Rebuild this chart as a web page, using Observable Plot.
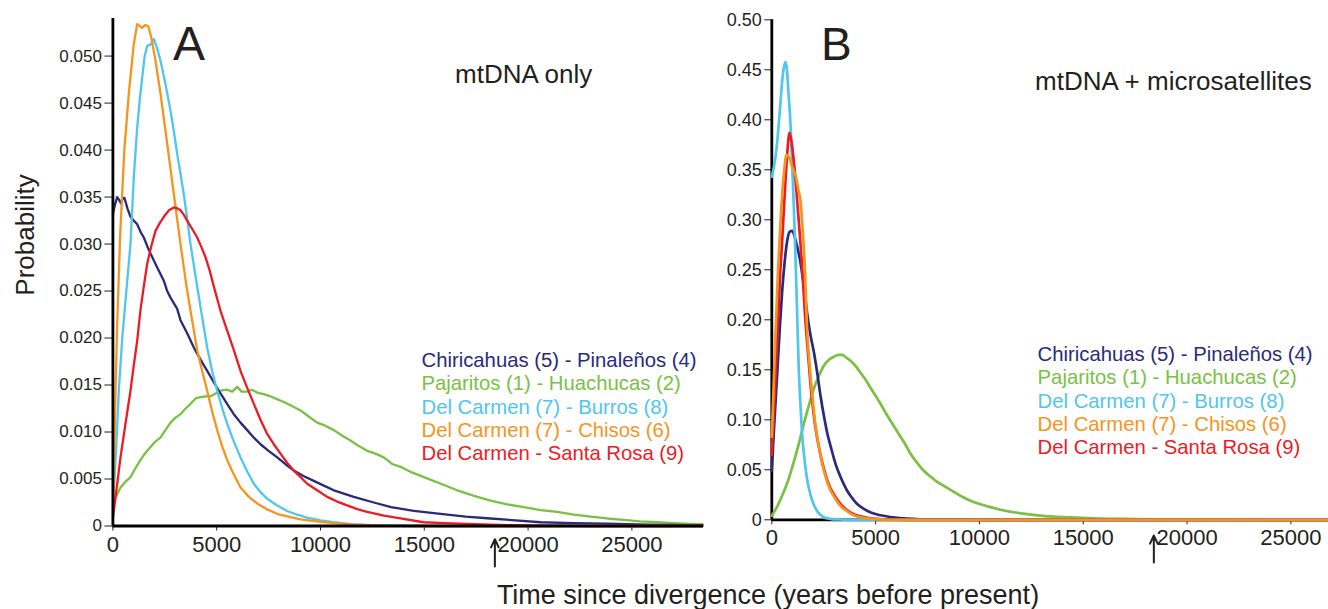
<!DOCTYPE html>
<html><head><meta charset="utf-8">
<script src="https://cdn.jsdelivr.net/npm/d3@7"></script>
<script src="https://cdn.jsdelivr.net/npm/@observablehq/plot@0.6"></script>
<style>
html,body{margin:0;padding:0;background:#fff;}
#wrap{position:relative;width:1328px;height:609px;overflow:hidden;font-family:"Liberation Sans",Arial,sans-serif;}
#pa{position:absolute;left:0;top:0;width:710px;height:570px;}
#pb{position:absolute;left:700px;top:0;width:628px;height:570px;}
#ov{position:absolute;left:0;top:0;pointer-events:none;}
</style></head><body>
<div id="wrap"><div id="pa"></div><div id="pb"></div><svg id="ov" width="1328" height="609"></svg></div>
<script>
// ---------- labels ----------
const seriesNames = ["Chiricahuas (5) - Pinaleños (4)", "Pajaritos (1) - Huachucas (2)", "Del Carmen (7) - Burros (8)", "Del Carmen (7) - Chisos (6)", "Del Carmen - Santa Rosa (9)"];
const seriesColors = ["#2a2a7c", "#7ac143", "#4fc6ef", "#f7941e", "#ec1c24"];
const panelLetters = ["A", "B"];
const panelTitles = ["mtDNA only", "mtDNA + microsatellites"];
const xAxisTitle = "Time since divergence (years before present)";
const yAxisTitle = "Probability";
const xTicks = [0, 5000, 10000, 15000, 20000, 25000];
const yTicksA = [0, 0.005, 0.010, 0.015, 0.020, 0.025, 0.030, 0.035, 0.040, 0.045, 0.050];
const yTicksB = [0, 0.05, 0.10, 0.15, 0.20, 0.25, 0.30, 0.35, 0.40, 0.45, 0.50];
const arrowYears = [18400];
const arrowSpanA = [-0.0043, -0.0014];
const arrowSpanB = [-0.0427, -0.0157];

// ---------- Panel A: mtDNA only  [years, probability] ----------
const A_chiricahuas = [[0,0.0332],[100,0.0342],[207,0.0350],[300,0.0347],[400,0.0343],[480,0.0349],[559,0.0349],[700,0.0338],[848,0.0329],[1000,0.0325],[1170,0.0321],[1330,0.0313],[1488,0.0307],[1650,0.0298],[1811,0.0290],[2134,0.0275],[2452,0.0261],[2615,0.0250],[2775,0.0243],[3097,0.0231],[3256,0.0219],[3578,0.0205],[3897,0.0190],[4220,0.0177],[4542,0.0165],[4860,0.0153],[5183,0.0141],[5500,0.0130],[5824,0.0119],[6147,0.0110],[6469,0.0102],[6790,0.0094],[7110,0.0087],[7500,0.0080],[7914,0.0073],[8300,0.0066],[8714,0.0059],[9200,0.0053],[9677,0.0048],[10160,0.0043],[10641,0.0038],[11604,0.0031],[12568,0.0025],[13400,0.0020],[14500,0.0016],[15780,0.0013],[17000,0.0010],[18189,0.0008],[19400,0.0006],[20598,0.0004],[22200,0.0003],[23810,0.00025],[25800,0.00015],[27800,0.0001],[28400,0.0001]];
const A_pajaritos = [[0,0.0026],[150,0.0031],[366,0.0041],[600,0.0047],[848,0.0052],[1100,0.0062],[1329,0.0070],[1570,0.0078],[1811,0.0084],[2050,0.0090],[2293,0.0094],[2530,0.0102],[2775,0.0110],[3000,0.0115],[3256,0.0119],[3500,0.0125],[3738,0.0130],[4000,0.0136],[4220,0.0137],[4460,0.0138],[4701,0.0138],[4950,0.0141],[5183,0.0144],[5505,0.0145],[5750,0.0143],[5986,0.0148],[6200,0.0143],[6469,0.0143],[6700,0.0145],[6950,0.0142],[7300,0.0140],[7592,0.0138],[7900,0.0135],[8233,0.0132],[8600,0.0128],[9036,0.0123],[9400,0.0117],[9841,0.0110],[10200,0.0107],[10641,0.0102],[11050,0.0096],[11445,0.0091],[11850,0.0085],[12250,0.0080],[12650,0.0077],[13050,0.0073],[13450,0.0066],[13854,0.0063],[14400,0.0057],[14976,0.0052],[15800,0.0045],[16585,0.0038],[17400,0.0032],[18189,0.0027],[19000,0.0023],[19793,0.0020],[20600,0.0017],[21402,0.0015],[22200,0.0012],[23006,0.0010],[23800,0.0008],[24610,0.00066],[25400,0.0005],[26219,0.0004],[27000,0.0003],[27823,0.00023],[28400,0.0002]];
const A_burros = [[0,0.0020],[150,0.0080],[285,0.0144],[450,0.0200],[607,0.0240],[848,0.0300],[1007,0.0371],[1170,0.0424],[1300,0.0455],[1411,0.0477],[1530,0.0500],[1652,0.0511],[1800,0.0512],[1973,0.0518],[2134,0.0508],[2293,0.0495],[2534,0.0470],[2775,0.0442],[2935,0.0420],[3097,0.0396],[3256,0.0375],[3415,0.0353],[3578,0.0327],[3738,0.0300],[3980,0.0266],[4220,0.0233],[4542,0.0190],[4780,0.0165],[5024,0.0144],[5270,0.0125],[5505,0.0109],[5820,0.0090],[6147,0.0073],[6470,0.0058],[6789,0.0045],[7110,0.0036],[7432,0.0029],[7900,0.0022],[8395,0.0016],[8880,0.0012],[9359,0.0009],[10000,0.0006],[10626,0.0004],[11500,0.0002],[12500,0.0001],[14000,0.00005],[16000,0],[28400,0]];
const A_chisos = [[0,0.0010],[100,0.0120],[200,0.0210],[350,0.0310],[550,0.0400],[766,0.0460],[1007,0.0513],[1170,0.0534],[1300,0.0532],[1400,0.0530],[1550,0.0533],[1700,0.0532],[1850,0.0520],[2052,0.0495],[2293,0.0460],[2615,0.0407],[2935,0.0353],[3256,0.0300],[3545,0.0255],[3656,0.0240],[4060,0.0187],[4300,0.0165],[4542,0.0144],[4780,0.0122],[5024,0.0102],[5260,0.0085],[5505,0.0070],[5820,0.0055],[6147,0.0041],[6550,0.0031],[6950,0.0024],[7400,0.0018],[7914,0.0013],[8450,0.0010],[9036,0.0007],[9800,0.0005],[10626,0.0003],[11600,0.00015],[13000,0.00005],[14500,0],[28400,0]];
const A_santaRosa = [[0,0.0008],[180,0.0040],[366,0.0073],[600,0.0108],[848,0.0144],[1000,0.0170],[1170,0.0197],[1329,0.0230],[1488,0.0255],[1652,0.0279],[1850,0.0298],[2052,0.0314],[2250,0.0322],[2452,0.0329],[2700,0.0336],[2935,0.0339],[3100,0.0338],[3256,0.0336],[3420,0.0331],[3578,0.0325],[3820,0.0316],[4060,0.0307],[4260,0.0297],[4460,0.0286],[4660,0.0272],[4860,0.0255],[5020,0.0242],[5183,0.0229],[5505,0.0208],[5830,0.0187],[6147,0.0165],[6470,0.0147],[6789,0.0130],[7110,0.0113],[7432,0.0098],[7750,0.0087],[8073,0.0077],[8400,0.0067],[8714,0.0059],[9040,0.0052],[9359,0.0045],[9840,0.0038],[10322,0.0031],[10800,0.0026],[11286,0.0022],[11770,0.0018],[12250,0.0015],[13050,0.0011],[13854,0.0008],[14960,0.0004],[16000,0.0003],[17400,0.0002],[19000,0.0001],[21000,0.00005],[23000,0],[28400,0]];

// ---------- Panel B: mtDNA + microsatellites ----------
const B_chiricahuas = [[0,0.049],[130,0.100],[260,0.146],[380,0.190],[500,0.229],[620,0.258],[742,0.279],[860,0.288],[982,0.289],[1100,0.283],[1223,0.273],[1340,0.262],[1464,0.246],[1580,0.228],[1705,0.206],[1860,0.185],[2023,0.168],[2180,0.148],[2346,0.124],[2500,0.105],[2700,0.084],[2828,0.074],[3068,0.056],[3308,0.043],[3632,0.029],[3790,0.024],[4100,0.016],[4433,0.011],[4800,0.007],[5236,0.0045],[5700,0.0028],[6360,0.0015],[7000,0.0008],[8000,0.0003],[9000,0.0001],[10000,0],[26800,0]];
const B_pajaritos = [[0,0.004],[300,0.015],[578,0.028],[800,0.040],[1060,0.058],[1300,0.076],[1541,0.096],[1780,0.114],[2023,0.131],[2250,0.143],[2505,0.154],[2750,0.160],[2987,0.163],[3200,0.165],[3391,0.165],[3600,0.162],[3791,0.159],[4030,0.154],[4273,0.147],[4520,0.140],[4754,0.132],[5000,0.124],[5236,0.116],[5480,0.107],[5718,0.099],[5960,0.091],[6199,0.083],[6440,0.075],[6681,0.066],[7000,0.057],[7323,0.049],[7650,0.043],[7967,0.038],[8370,0.033],[8767,0.028],[9170,0.023],[9571,0.019],[9970,0.016],[10376,0.0136],[10780,0.0113],[11176,0.0093],[12000,0.0065],[12784,0.0045],[13600,0.0032],[14388,0.0024],[15500,0.0015],[17000,0.0009],[18500,0.0005],[20000,0.0003],[22000,0.0001],[24000,0],[26800,0]];
const B_burros = [[0,0.343],[120,0.355],[230,0.372],[337,0.396],[420,0.418],[500,0.439],[580,0.452],[660,0.458],[730,0.450],[800,0.428],[900,0.396],[980,0.355],[1060,0.313],[1130,0.270],[1190,0.229],[1250,0.185],[1300,0.150],[1380,0.115],[1464,0.085],[1580,0.060],[1705,0.040],[1850,0.026],[2023,0.015],[2250,0.007],[2505,0.0026],[2800,0.001],[3200,0.0003],[3800,0],[26800,0]];
const B_chisos = [[0,0.083],[150,0.170],[300,0.250],[450,0.310],[600,0.350],[710,0.365],[850,0.362],[1000,0.352],[1150,0.344],[1300,0.328],[1384,0.319],[1470,0.295],[1590,0.252],[1700,0.190],[1800,0.160],[1950,0.125],[2100,0.095],[2220,0.079],[2400,0.058],[2550,0.046],[2750,0.033],[3000,0.023],[3300,0.014],[3600,0.009],[4000,0.004],[4600,0.0015],[5200,0.0005],[6000,0],[26800,0]];
const B_santaRosa = [[0,0.065],[130,0.120],[260,0.179],[400,0.245],[500,0.279],[620,0.325],[750,0.368],[853,0.387],[950,0.378],[1100,0.350],[1223,0.319],[1350,0.285],[1464,0.252],[1600,0.205],[1750,0.165],[1900,0.128],[2050,0.100],[2200,0.080],[2400,0.060],[2550,0.048],[2750,0.035],[3000,0.025],[3300,0.016],[3600,0.010],[4000,0.005],[4600,0.002],[5200,0.0007],[6000,0.0002],[7000,0],[26800,0]];

// ---------- build ----------
const ink = "#231f20";
const font = "Liberation Sans, Arial, sans-serif";
const rows = (pairs, i) => pairs.map(([t, p]) => ({t, p, s: i}));
const seriesA = [A_chiricahuas, A_pajaritos, A_burros, A_chisos, A_santaRosa];
const seriesB = [B_chiricahuas, B_pajaritos, B_burros, B_chisos, B_santaRosa];
const drawOrderA = [1, 0, 2, 3, 4];
const drawOrderB = [1, 0, 2, 4, 3];

const lineMarks = (series, order, width, curve) => order.map(i =>
  Plot.line(rows(series[i], i), {x: "t", y: "p", stroke: seriesColors[i], strokeWidth: width, curve, strokeLinejoin: "round"}));

const plotA = Plot.plot({
  width: 710, height: 570, marginLeft: 112.4, marginRight: 7, marginTop: 18, marginBottom: 44.5,
  style: {background: "transparent", fontFamily: font, color: ink, overflow: "visible"},
  x: {domain: [0, 28450], label: null},
  y: {domain: [0, 0.054], label: null},
  marks: [
    Plot.axisY(yTicksA, {tickFormat: d => d === 0 ? "0" : d.toFixed(3), tickSize: 8, tickPadding: 3, fontSize: 17, label: null}),
    Plot.axisX(xTicks, {tickFormat: d => String(d), tickSize: 5, tickPadding: 5, fontSize: 22, label: null}),
    ...lineMarks(seriesA, drawOrderA, 2.3, "linear"),
    Plot.ruleY([0], {stroke: "#000", strokeWidth: 2.8}),
    Plot.ruleX([0], {y1: 0, y2: 0.054, stroke: "#000", strokeWidth: 2.8}),
    Plot.arrow(arrowYears, {x1: d => d, x2: d => d, y1: arrowSpanA[0], y2: arrowSpanA[1], stroke: ink, strokeWidth: 2, headLength: 9, headAngle: 50})
  ]
});
document.getElementById("pa").appendChild(plotA);

const plotB = Plot.plot({
  width: 628, height: 570, marginLeft: 71.3, marginRight: 0, marginTop: 19.3, marginBottom: 50.7,
  style: {background: "transparent", fontFamily: font, color: ink, overflow: "visible"},
  x: {domain: [0, 26812], label: null},
  y: {domain: [0, 0.5], label: null},
  marks: [
    Plot.axisY(yTicksB, {tickFormat: d => d === 0 ? "0" : d.toFixed(2), tickSize: 7, tickPadding: 3, fontSize: 18, label: null}),
    Plot.axisX(xTicks, {tickFormat: d => String(d), tickSize: 5, tickPadding: 5, fontSize: 22, label: null}),
    Plot.ruleY([0], {stroke: "#000", strokeWidth: 2.8}),
    Plot.ruleX([0], {y1: 0, y2: 0.5, stroke: "#000", strokeWidth: 2.8}),
    ...lineMarks(seriesB, drawOrderB, 2.7, "monotone-x"),
    Plot.arrow(arrowYears, {x1: d => d, x2: d => d, y1: arrowSpanB[0], y2: arrowSpanB[1], stroke: ink, strokeWidth: 2, headLength: 9, headAngle: 50})
  ]
});
document.getElementById("pb").appendChild(plotB);

// ---------- overlay texts ----------
const ov = d3.select("#ov").style("font-family", font);
ov.append("text").attr("x", 34).attr("y", 235).attr("transform", "rotate(-90,34,235)")
  .attr("text-anchor", "middle").attr("font-size", 26).attr("fill", ink).text(yAxisTitle);
ov.append("text").attr("x", 768).attr("y", 604).attr("text-anchor", "middle")
  .attr("font-size", 27).attr("fill", ink).text(xAxisTitle);
ov.append("text").attr("x", 173).attr("y", 60).attr("font-size", 48).attr("fill", ink).text(panelLetters[0]);
ov.append("text").attr("x", 821).attr("y", 60).attr("font-size", 46).attr("fill", ink).text(panelLetters[1]);
ov.append("text").attr("x", 455).attr("y", 83).attr("font-size", 26).attr("fill", ink).text(panelTitles[0]);
ov.append("text").attr("x", 1035).attr("y", 90).attr("font-size", 26).attr("fill", ink).text(panelTitles[1]);
const legend = (x0, y0) => seriesNames.forEach((name, i) => {
  ov.append("text").attr("x", x0).attr("y", y0 + i * 23.4).attr("font-size", 20.3)
    .attr("fill", seriesColors[i]).text(name);
});
legend(421.5, 366.7);
legend(1037.6, 360.7);
</script>
</body></html>
